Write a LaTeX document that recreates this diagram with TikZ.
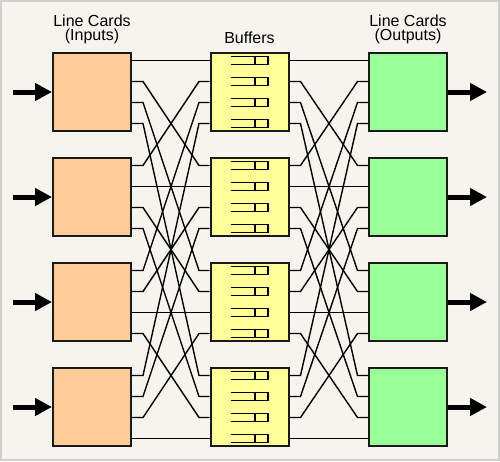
\documentclass[tikz,border=0pt]{standalone}
\usepackage{fontspec}
\setmainfont{Liberation Sans}
\usetikzlibrary{arrows.meta}
\definecolor{bg}{HTML}{F6F4EF}
\definecolor{frameC}{HTML}{CFCFCF}
\definecolor{inC}{HTML}{FFCC99}
\definecolor{bufC}{HTML}{FFFF99}
\definecolor{outC}{HTML}{99FF99}
\definecolor{edgeC}{HTML}{1A1A1A}
\begin{document}
\begin{tikzpicture}[x=1pt,y=1pt,
  card/.style={draw=edgeC, line width=2pt, minimum width=78pt, minimum height=78pt, inner sep=0pt},
  wire/.style={line width=1.4pt, black},
  qline/.style={line width=1.6pt, black},
  bigarrow/.style={line width=5pt, black, -{Triangle[length=17pt,width=17pt]}},
  title/.style={font=\fontsize{16}{14.5}\selectfont, align=center, inner sep=0pt}]
\fill[bg] (0,0) rectangle (500,-461);
\draw[frameC, line width=2pt] (1,-1) rectangle (499,-460);
\useasboundingbox (0,0) rectangle (500,-461);

\foreach \k in {1,...,4} {
  \pgfmathsetmacro\yc{-92-105*(\k-1)}
  \node[card, fill=inC] (in\k) at (92,\yc) {};
  \node[card, fill=bufC] (buf\k) at (249.5,\yc) {};
  \node[card, fill=outC] (out\k) at (408,\yc) {};
  \coordinate (a\k) at (13,\yc);
  \coordinate (b\k) at (487,\yc);
}

\foreach \i in {1,...,4} {
  \foreach \j in {1,...,4} {
    \pgfmathsetmacro\di{52.5-21*\i}
    \pgfmathsetmacro\dj{52.5-21*\j}
    \draw[wire] ([yshift=\dj pt]in\i.east) -- ++(11,0)
      -- ([xshift=-10.5pt,yshift=\di pt]buf\j.west) -- ([yshift=\di pt]buf\j.west);
    \draw[wire] ([yshift=\dj pt]buf\i.east) -- ++(11,0)
      -- ([xshift=-10.5pt,yshift=\di pt]out\j.west) -- ([yshift=\di pt]out\j.west);
  }
}

\foreach \k in {1,...,4} {
  \foreach \i in {1,...,4} {
    \pgfmathsetmacro\di{52.5-21*\i}
    \draw[qline] ([shift={(-18.5pt,\di pt+4pt)}]buf\k.center) -- ++(37,0) -- ++(0,-8) -- ++(-37,0);
    \draw[qline] ([shift={(5.5pt,\di pt+4pt)}]buf\k.center) -- ++(0,-8);
  }
  \draw[bigarrow] (a\k) -- (in\k.west);
  \draw[bigarrow] (out\k.east) -- (b\k);
}

\node[title] (tin) at (92,-29.5) {Line Cards\\(Inputs)};
\node[title, anchor=base] (tbuf) at (249.5,-43.3) {Buffers};
\node[title] (tout) at (408,-29.5) {Line Cards\\(Outputs)};
\end{tikzpicture}
\end{document}
